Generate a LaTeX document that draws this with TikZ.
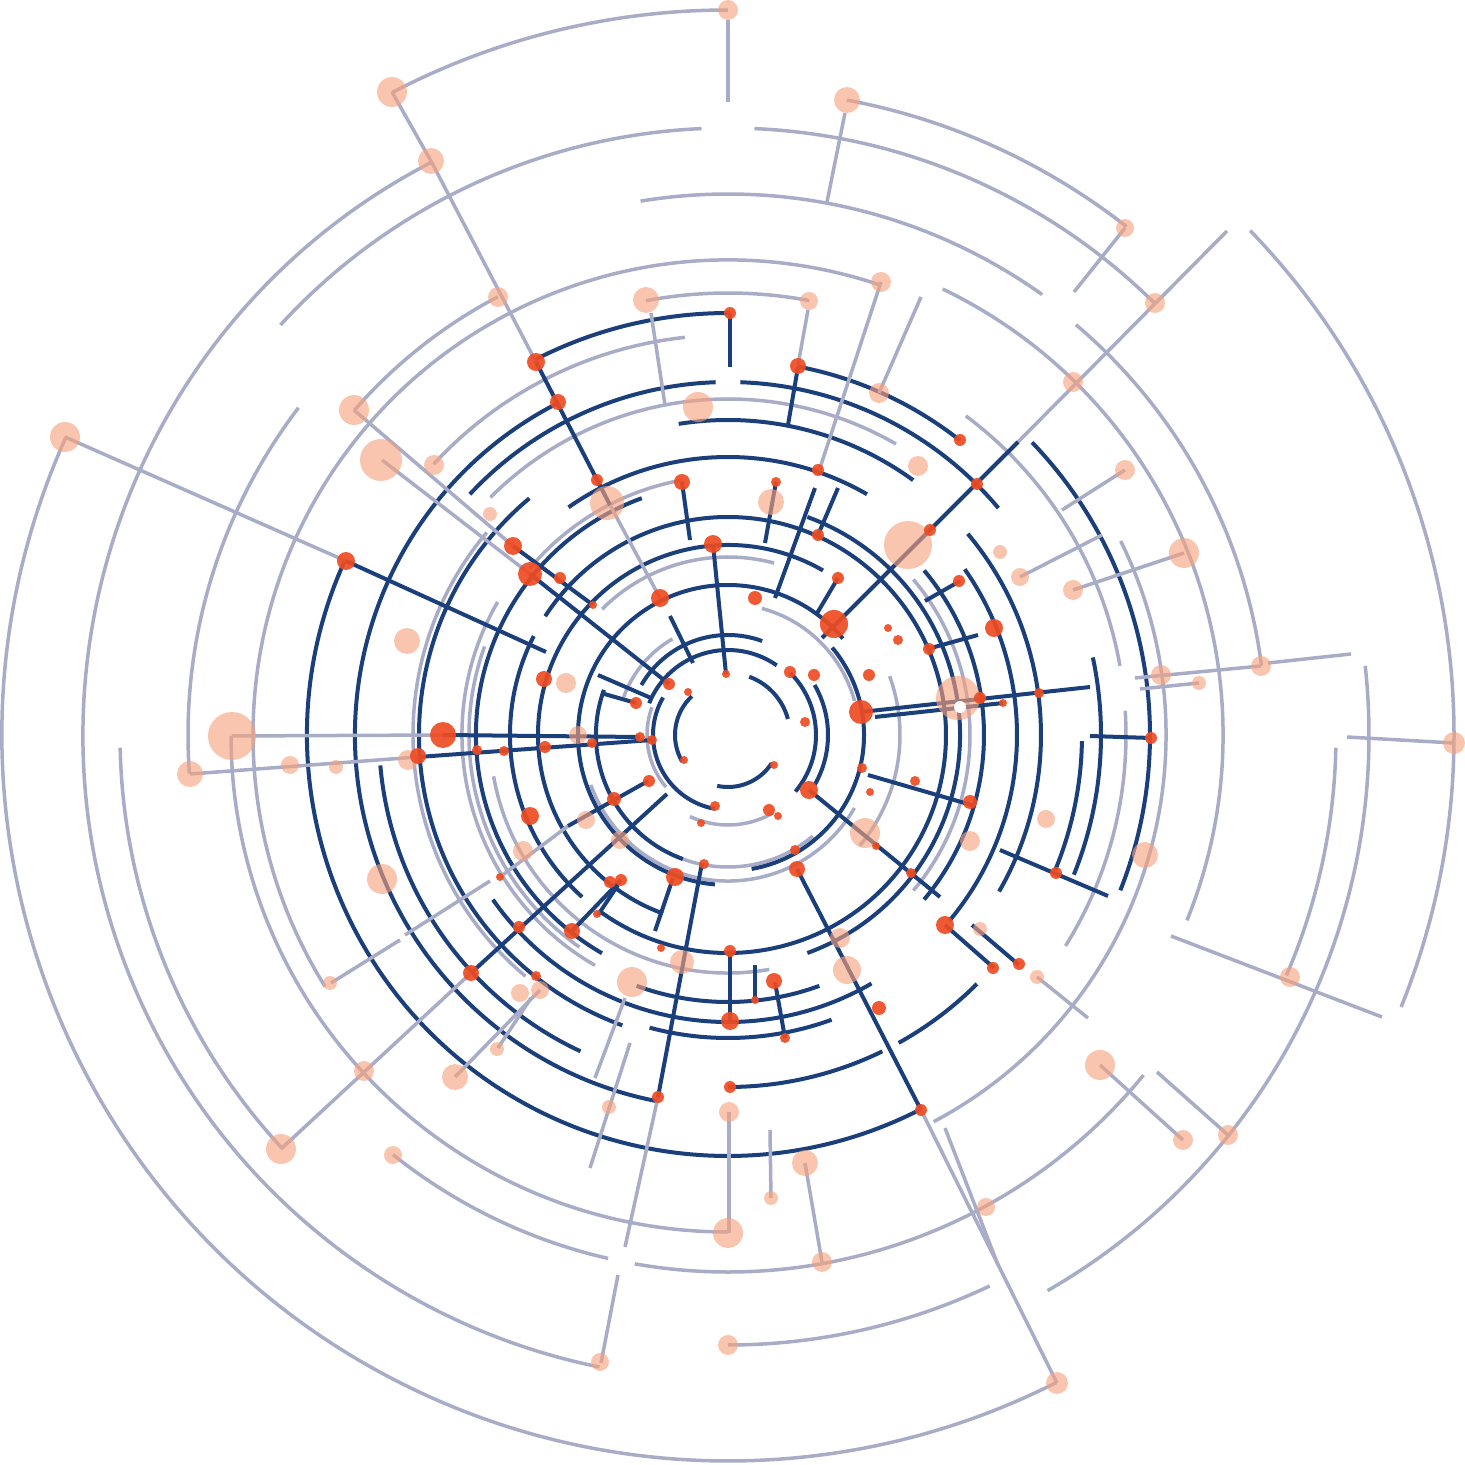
\documentclass[tikz,border=0pt]{standalone}
\usetikzlibrary{calc}
\definecolor{gry}{HTML}{A9ACC7}
\definecolor{nvy}{HTML}{1B3F7A}
\definecolor{red}{HTML}{EE4B22}
\definecolor{pch}{HTML}{F7A27C}
\tikzset{
  gline/.style={draw=gry,line width=0.035cm},
  nline/.style={draw=nvy,line width=0.04cm},
  pdot/.style={fill=pch,fill opacity=0.62},
  rdot/.style={fill=red,fill opacity=0.92}
}
\begin{document}
\begin{tikzpicture}[x=0.01cm,y=0.01cm]
\useasboundingbox (0,0) rectangle (1465,1465);
\coordinate (C) at (728,730);
% gray arcs r/a1/a2
\foreach \r/\a/\b in {725/90/117.6, 726/155.8/296.9, 726/-22/44, 645/117.4/258.5,
  646/51.9/79.4, 607/92.5/137.5, 607/45.3/87.5, 541/54.5/99.3, 540/142.7/184.1,
  538/7.4/49.7, 608/181.2/222.8, 495/-22/64.3, 475/71.3/212, 442/79.4/100.7,
  497/180.1/270, 495/117.7/139, 537/260/320.7, 537/231.4/257.1, 610/270/295.4,
  641/-60.1/6.2, 608/-23.3/-1.2, 398/-32/3.5, 398/10/53.3, 438/-62/26.3,
  400/96.2/137.4, 315/140/230, 266/150/240, 259/100/140, 259/160/235, 242/-40/40,
  238/190/280, 172/-40/20, 146/200/330, 81/160/220, 336/60/135, 178/75/135,
  131/15/75, 90/245/300, 132/220/310, 111/120/160}
  \draw[gline] ($(C)+(\a:\r)$) arc[start angle=\a,end angle=\b,radius=\r];
% navy arcs
\foreach \r/\a/\b in {422/89.7/117.2, 421/155.5/297.2, 422/-21.6/43.9, 375/51.8/79.3,
  373/117/259, 373/-22/12, 353/92/137, 353/40/88, 349/185/245, 309/130/250,
  289/-40/35, 256/-40/40, 252/110/240, 232/-70/70, 218/0/147, 218/153/228,
  218/234/360, 190/60/250, 150/40/265, 136/-80/40, 132/160/250, 100/70/150,
  100/-30/30, 88/-40/45, 85/55/158, 75/150/260, 53/133/210, 62/15/70, 52/258/327,
  315/54/99, 313/-30/40, 278/60/125, 303/255/290, 287/215/300, 267/250/290,
  352/270/296, 352/299/315, 354/-22.5/-1}
  \draw[nline] ($(C)+(\a:\r)$) arc[start angle=\a,end angle=\b,radius=\r];
% gray spokes (screen coords)
\foreach \xa/\ya/\xb/\yb in {728/20/728/102, 392/92/431/161, 431/161/536/362,
  845/113/827/202, 1125/228/1074/292, 1227/231/1018/442, 881/282/819/471,
  921/297/879/393, 651/313/665/405, 808/310/798/365, 65/437/346/561,
  232/736/443/735, 190/774/418/757, 1347/737/1454/743, 1268/663/1351/654,
  1135/678/1261/666, 1140/689/1199/683, 1020/577/1102/535, 1073/590/1184/553,
  1171/936/1382/1017, 281/1149/471/973, 921/1110/1057/1383, 945/1128/998/1265,
  1100/1065/1183/1140, 1157/1072/1228/1135, 1037/977/1088/1018, 729/1112/729/1233,
  770/1130/771/1198, 805/1163/822/1262, 601/1363/618/1275, 625/1247/658/1097,
  630/1043/590/1168, 625/998/595/1078, 531/998/498/1048, 331/983/400/940,
  405/935/490/881, 455/1077/540/990, 354/410/513/546, 382/460/530/574,
  1125/470/1062/510, 610/505/660/598, 500/877/568/826}
  \draw[gline] (\xa,{1465-\ya}) -- (\xb,{1465-\yb});
% navy spokes
\foreach \xa/\ya/\xb/\yb in {536/362/610/505, 670/616/693/663, 730/313/730/367,
  798/367/788/425, 1018/442/822/638, 815/488/775/598, 346/561/546/652,
  443/735/640/737, 418/757/652/740, 658/1097/702/863, 471/973/667/794,
  921/1110/797/869, 513/546/593/605, 530/574/669/684, 682/482/690/540,
  713/544/726/674, 1151/738/1090/736, 1108/896/1000/850, 945/925/994/968,
  972/925/1019/965, 809/790/940/897, 572/931/621/880, 598/915/618/885,
  655/931/673/878, 730/951/730/1021, 755/965/755/1000, 775/982/785/1038,
  776/482/765/543, 838/488/818/535, 838/578/816/615, 925/601/960/581,
  931/648/978/635, 861/712/1090/687, 875/717/1003/703, 868/775/975/806,
  598/675/651/698, 601/693/636/703, 568/826/648/781}
  \draw[nline] (\xa,{1465-\ya}) -- (\xb,{1465-\yb});
% peach dots
\foreach \x/\y/\s in {728/10/10, 392/92/15, 431/161/13, 847/100/13, 1125/228/9,
  1155/303/10, 881/282/10, 498/297/10, 646/300/13, 809/301/9, 1073/382/10,
  354/410/15, 434/465/10, 381/460/21, 65/437/15, 879/393/10, 698/407/15,
  918/466/10, 1125/470/10, 908/545/24, 1000/552/7, 1020/577/9, 1073/590/10,
  1184/553/15, 771/502/13, 607/503/17, 490/514/7, 407/641/13, 566/683/10,
  232/736/24, 190/774/13, 290/765/9, 336/767/7, 408/760/10, 1161/675/10,
  1199/683/7, 1261/666/10, 958/698/22, 1454/743/11, 1046/819/9, 970/841/10,
  1145/855/13, 382/879/15, 330/983/7, 364/1071/10, 281/1149/15, 455/1077/13,
  393/1155/9, 497/1049/7, 520/993/9, 540/990/9, 632/982/15, 682/962/12,
  840/938/10, 847/970/14, 1100/1065/15, 1183/1140/10, 1228/1135/10, 1290/977/10,
  1037/977/7, 980/929/7, 729/1112/10, 609/1107/7, 805/1163/13, 771/1198/7,
  728/1233/15, 822/1262/10, 986/1207/9, 728/1345/10, 600/1362/9, 1057/1383/11,
  865/833/15, 523/851/10, 586/820/9, 578/735/9, 620/840/9}
  \fill[pdot] (\x,{1465-\y}) circle (\s);
\fill[white] (960,{1465-707}) circle (6);
% red dots
\foreach \x/\y/\s in {730/313/6, 536/362/9, 558/402/8, 798/366/8, 597/480/6,
  960/440/6, 977/484/6, 682/482/8, 776/482/5, 818/470/6, 713/544/9, 930/530/6,
  513/546/9, 530/574/12, 560/578/6, 346/561/9, 660/598/9, 755/598/7, 838/578/6,
  834/624/14, 818/535/6, 898/640/5, 888/628/4, 929/649/6, 959/581/6, 994/628/9,
  544/679/8, 593/605/4, 636/703/6, 669/684/6, 688/692/4, 726/674/4, 790/672/6,
  814/675/6, 869/675/6, 861/712/12, 805/722/5, 980/698/6, 1003/703/4, 1039/693/5,
  1151/738/6, 443/735/13, 418/756/8, 477/750/5, 504/751/5, 545/747/6, 592/743/5,
  640/737/5, 652/740/5, 684/760/4, 774/765/4, 715/806/5, 701/823/4, 769/810/6,
  778/816/4, 649/781/6, 614/799/7, 530/816/9, 862/768/5, 809/790/9, 870/792/4,
  915/781/5, 970/802/7, 911/873/5, 876/846/4, 1056/873/6, 945/925/9, 993/968/6,
  1019/964/6, 795/850/5, 797/869/8, 704/864/5, 675/877/9, 610/882/6, 621/880/6,
  597/914/4, 500/877/4, 572/931/8, 519/927/6, 471/973/8, 661/948/4, 730/951/6,
  755/1000/4, 774/981/8, 730/1021/9, 785/1038/5, 879/1008/7, 536/976/5,
  658/1097/6, 730/1087/6, 921/1110/6}
  \fill[rdot] (\x,{1465-\y}) circle (\s);
\end{tikzpicture}
\end{document}
